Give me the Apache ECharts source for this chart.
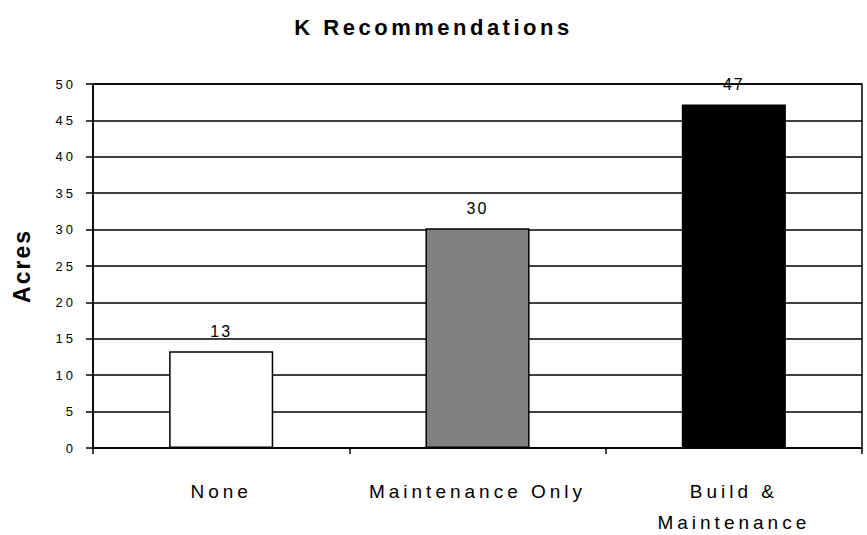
<!DOCTYPE html>
<html>
<head>
<meta charset="utf-8">
<script src="https://cdn.jsdelivr.net/npm/echarts@6/dist/echarts.min.js"></script>
<style>
html,body{margin:0;padding:0;background:#fff;}
#c{width:867px;height:535px;}
#c text[style*="22px"]{letter-spacing:3.5px;}
#c text[style*="19px"]{letter-spacing:4px;}
#c text[style*="13px"]{letter-spacing:3px;}
#c text[style*="16px"]{letter-spacing:2px;}
#c text[style*="23px"]{letter-spacing:2px;}
</style>
</head>
<body>
<div id="c"></div>
<script>
const titleText = 'K Recommendations';
const yAxisName = 'Acres';
const categories = ['None', 'Maintenance Only', 'Build &\nMaintenance'];
const values = [13.3, 30.2, 47.2];
const valueLabels = ['13', '30', '47'];
const barColors = ['#ffffff', '#808080', '#000000'];
const yMin = 0, yMax = 50, yStep = 5;

const chart = echarts.init(document.getElementById('c'), null, {renderer: 'svg'});
chart.setOption({
  animation: false,
  backgroundColor: '#fff',
  title: {
    text: titleText,
    left: 'center',
    top: 11,
    textStyle: {fontFamily: 'Arial, Liberation Sans', fontWeight: 'bold', fontSize: 22, color: '#000'}
  },
  grid: {left: 93, right: 5, top: 84, bottom: 87, containLabel: false, outerBoundsMode: 'none', show: true, borderColor: '#000', borderWidth: 1.5, backgroundColor: 'transparent'},
  xAxis: {
    type: 'category',
    data: categories,
    axisLine: {lineStyle: {color: '#000', width: 1.5}},
    axisTick: {show: true, length: 6, lineStyle: {color: '#000', width: 1.5}},
    axisLabel: {color: '#000', fontFamily: 'Arial, Liberation Sans', fontSize: 19, lineHeight: 31, margin: 28}
  },
  yAxis: {
    type: 'value',
    min: yMin, max: yMax, interval: yStep,
    name: yAxisName,
    nameLocation: 'middle',
    nameRotate: 90,
    nameGap: 60,
    nameTextStyle: {fontFamily: 'Arial, Liberation Sans', fontWeight: 'bold', fontSize: 23, color: '#000'},
    axisLine: {show: true, lineStyle: {color: '#000', width: 1.5}},
    axisTick: {show: true, length: 7, lineStyle: {color: '#000', width: 1.5}},
    axisLabel: {color: '#000', fontFamily: 'Arial, Liberation Sans', fontSize: 13, margin: 17},
    splitLine: {show: true, lineStyle: {color: '#000', width: 1.5}}
  },
  series: [{
    type: 'bar',
    barWidth: '40.6%',
    data: values.map((v, i) => ({
      value: v,
      itemStyle: {color: barColors[i], borderColor: '#000', borderWidth: 1.5},
      label: {formatter: valueLabels[i]}
    })),
    label: {show: true, position: 'top', distance: 12, color: '#000', fontFamily: 'Arial, Liberation Sans', fontSize: 16}
  }]
});
</script>
</body>
</html>
